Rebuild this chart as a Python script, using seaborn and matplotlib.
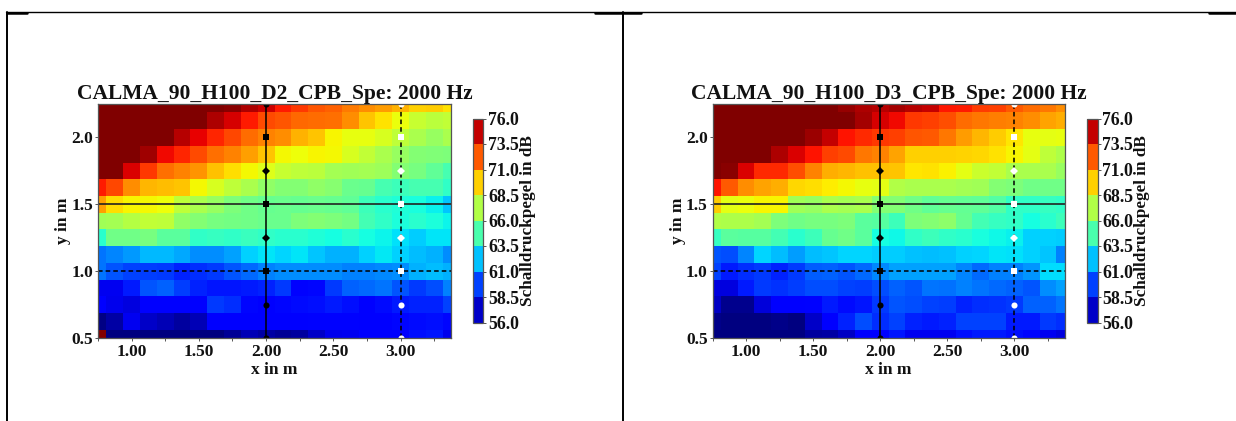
import numpy as np
import pandas as pd
import seaborn as sns
import matplotlib
matplotlib.use("Agg")
import matplotlib.pyplot as plt
from matplotlib.colors import ListedColormap, BoundaryNorm
from matplotlib.cm import ScalarMappable
from matplotlib.lines import Line2D

sns.set_theme(style="white")
plt.rcParams['font.family'] = ['Liberation Serif', 'DejaVu Serif']
plt.rcParams['font.weight'] = 'bold'

x_centers = [0.75, 0.875, 1.0, 1.125, 1.25, 1.375, 1.5, 1.625, 1.75, 1.875, 2.0, 2.125, 2.25, 2.375, 2.5, 2.625, 2.75, 2.875, 3.0, 3.125, 3.25, 3.375]
y_centers = [2.25, 2.125, 2.0, 1.875, 1.75, 1.625, 1.5, 1.375, 1.25, 1.125, 1.0, 0.875, 0.75, 0.625, 0.5]

spl_d2 = [
 [76,76,76,76,76,76,76,76,75.8,75.2,74.6,73.6,73.0,72.4,72.1,71.6,71.2,70.9,70.4,69.8,69.9,69.4],
 [76,76,76,76,76,76,76,75.2,74.5,73.6,72.6,72.4,72,71.9,71.8,71.2,70,69.4,68.7,67.8,67.5,67.7],
 [76,76,76,76,76,75,74.2,73.4,72.7,71.9,71.4,71.2,70.4,70,69,68.6,68.6,68.2,67.6,67.1,66.7,67.1],
 [76,76,76,75.4,74,73.4,72.6,71.8,71.4,70.8,70,68.9,68.8,69,68.9,68.2,67.7,67.1,66.7,66.2,66.1,66],
 [76,76,74.4,73,71.8,71.4,71,70.1,69.5,68.9,68.4,67.8,67.6,67.5,67,66.9,67,66.8,66.2,65.9,65.3,64.7],
 [73.6,72.7,71.2,70.3,70.2,70,68.9,68.2,67.6,67.1,66.5,66.2,66.2,66.5,66.3,65.6,65.5,64.7,64.5,64.7,64.7,64.2],
 [70.8,69.5,69,68.9,68.8,67.6,67.1,66.7,66,65.7,65.5,65.6,65.5,65.6,65.5,65.3,64.5,64,63.8,63.6,63.2,62.4],
 [66.9,67,67.4,67.7,67.6,66.5,66.2,65.9,65.8,65.7,65.6,65.6,66,66.2,66,65.8,64.6,64.2,63.7,64,63.7,63.3],
 [64,65.7,65.7,65.9,65.2,65.2,64.2,64.3,64.2,64.4,64.2,64,64,63.8,63.5,64,63.5,63.3,62.9,62.5,63,63],
 [60.8,61.1,61.5,62.1,62.1,61.8,61.3,61.3,61.7,62.6,63,62.7,63,62.4,62,62,62.6,63.1,62.6,62.2,62,61.3],
 [60.8,60.2,59.8,59.7,59.6,59.2,59.4,59.6,60.2,60.6,61,61.3,61.3,61.3,61.3,61,61,61.2,61.3,62,62.2,62],
 [58,58,59,60.2,60.4,59.7,59.2,58.9,58.9,59,59.2,59.6,58.5,58.6,59.6,60.4,60.6,60.8,60.2,59.6,60,61],
 [58.3,57.9,57.7,58.3,58.4,58.4,58.3,59.6,59.4,58.6,58.4,58.6,58.7,58.8,59,58.8,58.4,58.7,59,59.2,59.2,59.8],
 [56.1,56.7,58,57.3,57,56.6,57,58.3,58.4,58.3,58.2,58.4,58.4,58.5,58.5,58.5,58.3,58.4,58.6,58.7,58.8,58.6],
 [76,56,56,56,56,56,56,56,56.4,57,56.7,56.4,56.6,57.3,57.9,58,58.2,58.3,58.4,58.8,58.9,57.9],
]

spl_d3 = [
 [76,76,76,76,76,76,76,76,75.6,75.2,75,75.3,75,74.8,73.7,73.6,72.9,72.8,72.3,71.9,71.7,71.2],
 [76,76,76,76,76,76,76,76,76,75.3,74.5,74,73,72.8,72.5,71.9,71.7,71.5,71.4,71.2,70.7,70.5],
 [76,76,76,76,76,76,75.5,74.8,73.8,73.3,73,72.8,72.4,72.3,71.7,70.9,70.3,69.9,69.3,68.6,68.5,68.6],
 [76,76,76,76,75.2,74.4,73.8,72.8,72.6,71.7,71.4,70.7,69.8,69.8,69.8,69.7,69.6,69.4,69,68.5,67.6,67.2],
 [76,75.8,74.4,73.3,73.3,72.5,71.4,70.5,70.3,70.1,70.1,70,69.3,69.4,69.1,68.5,67.9,67.7,67.1,67.1,67.1,66.7],
 [73.8,72.3,71.2,70.7,70.5,69.6,69.5,69.2,68.9,68.6,68.5,67.3,67.1,67.1,67.1,67,66.9,66.2,66,65.7,65.7,65.7],
 [69.9,68.5,68.7,69,69,66.9,66.7,67.1,67,67.1,66.2,66.2,65.7,65.3,65.5,65.4,65.3,65,64.2,64.2,64.3,64.2],
 [67.3,67.2,67.2,67,66,65.7,65.9,65.9,66,65.2,65.1,64.5,66,66.2,66.4,65.5,64.6,64.3,64.2,63.5,64,64.5],
 [64.3,65.2,65.1,65.1,64.6,64,64.5,65.5,65.7,65.2,63.5,63.4,64.2,64.5,64.2,64,63.6,63.4,63.2,62.6,62.6,62.5],
 [60.2,60,61.1,62.7,62.2,61.6,62.2,62.4,62.7,62.7,62.5,62.5,62.3,62.2,62.3,62.6,62.7,63,62.9,62.6,62.4,61],
 [59.8,59,59.4,59.6,59.2,59.6,60.3,60.4,60.2,60.6,61.2,61.7,61.7,61.7,61.7,61.1,60.6,61,61,61.4,62.8,62.8],
 [57.7,57.7,59,59.6,59.5,59.7,60,60,59.8,59.7,60,60.4,60.2,60.8,60.7,61,60.8,60.6,60.4,60.2,61.3,61.7],
 [57.2,56.3,56.3,57.6,58.2,58.2,58.5,59,58.7,58.9,59.6,60.2,60,59.8,59.7,59.2,59.4,59.5,59.6,60.4,60.4,60.8],
 [56.2,56,56,56,56.2,56,57.3,58.2,59.2,60,59.4,59.8,59.2,59,59.2,59.8,59.8,59.8,59,59,59.6,59.4],
 [56,56,56,56,56,56,56.6,56.7,57.2,58.2,58.3,58.9,58,58,58,58.8,59,59,58.8,58.6,58,57.7],
]

titles = ["CALMA_90_H100_D2_CPB_Spe: 2000 Hz", "CALMA_90_H100_D3_CPB_Spe: 2000 Hz"]
x_ticks = [0.75, 1.0, 1.25, 1.5, 1.75, 2.0, 2.25, 2.5, 2.75, 3.0, 3.25]
x_tick_labels = ["", "1.00", "", "1.50", "", "2.00", "", "2.50", "", "3.00", ""]
y_ticks = [0.5, 1.0, 1.5, 2.0]
y_tick_labels = ["0.5", "1.0", "1.5", "2.0"]
cbar_levels = [56.0, 58.5, 61.0, 63.5, 66.0, 68.5, 71.0, 73.5, 76.0]
square_y = [2.0, 1.5, 1.0]
diamond_y = [1.75, 1.25]
circle_y = [2.25, 0.75, 0.5]
probe_lines_x = [2.0, 3.0]
probe_lines_y = [1.5, 1.0]

W, H = 1236, 421
fig = plt.figure(figsize=(W / 100, H / 100), dpi=100, facecolor="white")


def px_axes(x0, y0, x1, y1):
    return fig.add_axes([x0 / W, 1 - y1 / H, (x1 - x0) / W, (y1 - y0) / H])


def col_pos(x):
    return (np.asarray(x, float) - x_centers[0]) / (x_centers[1] - x_centers[0]) + 0.5


def row_pos(y):
    return (y_centers[0] - np.asarray(y, float)) / (y_centers[0] - y_centers[1]) + 0.5


jet = plt.get_cmap("jet")
n_lv = len(cbar_levels) - 1
cbar_cmap = ListedColormap([jet((i + 0.5) / n_lv) for i in range(n_lv)])
cbar_norm = BoundaryNorm(cbar_levels, n_lv)
edge = "#555555"


def panel(data, title, ax_box, cb_box):
    ax = px_axes(*ax_box)
    df = pd.DataFrame(data, index=y_centers, columns=x_centers)
    sns.heatmap(df, ax=ax, cmap="jet", vmin=56, vmax=76, cbar=False,
                xticklabels=False, yticklabels=False, linewidths=0)
    ax.set_xlim(0.5, len(x_centers) - 0.5)
    ax.set_ylim(len(y_centers) - 0.5, 0.5)
    ax.set_xticks(col_pos(x_ticks), x_tick_labels)
    ax.set_yticks(row_pos(y_ticks), y_tick_labels)
    ax.tick_params(axis="both", length=2.5, width=0.7, color=edge, labelsize=12.5,
                   labelcolor="#111111", bottom=True, left=True)
    ax.tick_params(axis="x", pad=1.5)
    ax.tick_params(axis="y", pad=1.0)
    for s in ax.spines.values():
        s.set_visible(True)
        s.set_color(edge)
        s.set_linewidth(0.9)
    ax.set_xlabel("x in m", fontsize=12.5, fontweight="bold", labelpad=2, color="#111111")
    ax.set_ylabel("y in m", fontsize=12.5, fontweight="bold", labelpad=0, color="#111111")
    ax.set_title(title, fontsize=15.5, fontweight="bold", pad=3.5, color="#111111")

    ax.axvline(col_pos(probe_lines_x[0]), color="black", lw=1.1)
    ax.axvline(col_pos(probe_lines_x[1]), color="black", lw=1.1, ls=(0, (3, 2)))
    ax.axhline(row_pos(probe_lines_y[0]), color="#222222", lw=1.2)
    ax.axhline(row_pos(probe_lines_y[1]), color="black", lw=1.1, ls=(0, (3, 2)))
    for xv, c in zip(probe_lines_x, ["black", "white"]):
        for ys, m, ms in ((square_y, "s", 4.2), (diamond_y, "D", 3.8), (circle_y, "o", 4.4)):
            ax.plot(col_pos([xv] * len(ys)), row_pos(ys), ls="none", marker=m, ms=ms,
                    mfc=c, mec=c, mew=0, clip_on=True)

    cax = px_axes(*cb_box)
    cb = fig.colorbar(ScalarMappable(norm=cbar_norm, cmap=cbar_cmap), cax=cax,
                      ticks=cbar_levels, spacing="proportional")
    cb.ax.set_yticklabels([f"{v:.1f}" for v in cbar_levels])
    cb.ax.tick_params(length=2.5, width=0.7, color=edge, labelsize=12.8, pad=1.0,
                      labelcolor="#111111", right=True)
    cb.outline.set_edgecolor(edge)
    cb.outline.set_linewidth(0.9)
    cb.set_label("Schalldruckpegel in dB", fontsize=12.3, fontweight="bold", color="#111111")
    cb.ax.yaxis.set_label_coords(4.35, 0.5)


panel(spl_d2, titles[0], (98, 104, 451, 338), (472.5, 118.5, 483.5, 322.5))
panel(spl_d3, titles[1], (712.5, 104, 1064.7, 338), (1086.5, 118.5, 1097.5, 322.5))

# surrounding table rules
rules = [
    ((6, 1236), (12, 12), 1.0),
    ((7, 7), (12, 421), 1.4),
    ((622.5, 622.5), (12, 421), 1.4),
    ((7, 27), (12.5, 12.5), 1.8),
    ((595, 641), (12.5, 12.5), 1.8),
    ((1209, 1236), (12.5, 12.5), 1.8),
]
for xs, ys, lw in rules:
    fig.add_artist(Line2D([v / W for v in xs], [1 - v / H for v in ys], color="black",
                          lw=lw, transform=fig.transFigure))

fig.savefig("out.png", dpi=100, facecolor="white")
